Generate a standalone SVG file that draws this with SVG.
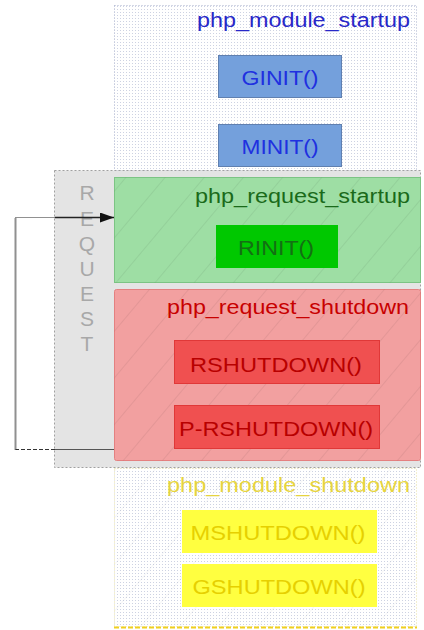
<svg xmlns="http://www.w3.org/2000/svg" width="424" height="630" viewBox="0 0 424 630">
<defs>
<pattern id="dots" width="3" height="3" patternUnits="userSpaceOnUse"><rect x="0" y="0" width="1" height="1" fill="#cdd2e2"/></pattern>
<pattern id="hatch" width="30" height="30" patternUnits="userSpaceOnUse" patternTransform="rotate(40)"><line x1="0" y1="0" x2="0" y2="30" stroke="#000" stroke-opacity="0.12" stroke-width="1"/></pattern>
<marker id="arr" markerWidth="14" markerHeight="10" refX="14" refY="5" orient="auto" markerUnits="userSpaceOnUse"><path d="M0,0 L14,5 L0,10 Z" fill="#111"/></marker>
</defs>
<style>
.t{font-family:"Liberation Sans",Arial,sans-serif;}
.title{font-size:20px;text-anchor:end;}
.lbl{font-size:21px;text-anchor:middle;dominant-baseline:central;}
.req{font-family:"Liberation Sans",Arial,sans-serif;font-size:21px;fill:#a8a8a8;text-anchor:middle;dominant-baseline:central;}
</style>
<rect width="424" height="630" fill="#fff"/>
<g id="module_startup">
<rect x="114.5" y="5.5" width="302" height="165" fill="url(#dots)" stroke="#a8b0cc" stroke-dasharray="1 2"/>
<text class="t title" x="410" y="27" fill="#2828c8" textLength="213" lengthAdjust="spacingAndGlyphs">php_module_startup</text>
</g>
<g id="GINIT">
<rect x="218.5" y="55.5" width="123" height="42" fill="#74a0dc" stroke="#6080b0"/>
<text class="t lbl" x="280" y="77" fill="#2030e0" textLength="77" lengthAdjust="spacingAndGlyphs">GINIT()</text>
</g>
<g id="MINIT">
<rect x="218.5" y="124.5" width="123" height="42" fill="#74a0dc" stroke="#6080b0"/>
<text class="t lbl" x="280" y="146" fill="#2030e0" textLength="77" lengthAdjust="spacingAndGlyphs">MINIT()</text>
</g>
<g id="request">
<rect x="54.5" y="170.5" width="366" height="297" fill="#e4e4e4" stroke="#a0a0a0" stroke-dasharray="2 2"/>
<text class="req" x="87" y="192">R</text>
<text class="req" x="87" y="218">E</text>
<text class="req" x="87" y="243">Q</text>
<text class="req" x="87" y="268">U</text>
<text class="req" x="87" y="293">E</text>
<text class="req" x="87" y="318">S</text>
<text class="req" x="87" y="343">T</text>
</g>
<g id="request_startup">
<rect x="114.5" y="177.5" width="306" height="105" fill="#9edea4" stroke="#7cc484"/>
<rect x="114.5" y="177.5" width="306" height="105" fill="url(#hatch)"/>
<text class="t title" x="410" y="203" fill="#1a6a1a" textLength="215" lengthAdjust="spacingAndGlyphs">php_request_startup</text>
</g>
<g id="RINIT">
<rect x="216" y="225" width="122" height="43" fill="#00c800"/>
<text class="t lbl" x="276" y="247" fill="#137013" textLength="76" lengthAdjust="spacingAndGlyphs">RINIT()</text>
</g>
<g id="request_shutdown">
<rect x="114.5" y="289.5" width="306" height="171" rx="2" fill="#f2a0a0" stroke="#e48080"/>
<rect x="114.5" y="289.5" width="306" height="171" fill="url(#hatch)"/>
<text class="t title" x="409" y="314" fill="#c80000" textLength="242" lengthAdjust="spacingAndGlyphs">php_request_shutdown</text>
</g>
<g id="RSHUTDOWN">
<rect x="174.5" y="340.5" width="205" height="43" fill="#f05050" stroke="#e03838"/>
<text class="t lbl" x="276" y="364" fill="#b80000" textLength="172" lengthAdjust="spacingAndGlyphs">RSHUTDOWN()</text>
</g>
<g id="P-RSHUTDOWN">
<rect x="174.5" y="405.5" width="205" height="43" fill="#f05050" stroke="#e03838"/>
<text class="t lbl" x="276" y="428" fill="#b80000" textLength="194" lengthAdjust="spacingAndGlyphs">P-RSHUTDOWN()</text>
</g>
<g id="module_shutdown">
<rect x="114.5" y="468.5" width="302" height="158" fill="url(#dots)" stroke="#e8e0a0" stroke-dasharray="1 2"/>
<rect x="114.5" y="468.5" width="302" height="158" fill="url(#hatch)" opacity="0.5"/>
<line x1="114" y1="627.5" x2="417" y2="627.5" stroke="#f0d020" stroke-width="2" stroke-dasharray="5 2"/>
<text class="t title" x="410" y="492" fill="#e6d440" textLength="243" lengthAdjust="spacingAndGlyphs">php_module_shutdown</text>
</g>
<g id="MSHUTDOWN">
<rect x="182" y="510" width="195" height="43" fill="#ffff40"/>
<text class="t lbl" x="278" y="532" fill="#e6d000" textLength="175" lengthAdjust="spacingAndGlyphs">MSHUTDOWN()</text>
</g>
<g id="GSHUTDOWN">
<rect x="182" y="564" width="195" height="43" fill="#ffff40"/>
<text class="t lbl" x="279" y="586" fill="#e6d000" textLength="173" lengthAdjust="spacingAndGlyphs">GSHUTDOWN()</text>
</g>
<g id="connectors" fill="none">
<line x1="114" y1="449.5" x2="55" y2="449.5" stroke="#555" stroke-width="1.2"/>
<line x1="55" y1="449.5" x2="15.5" y2="449.5" stroke="#333" stroke-dasharray="4 2"/>
<line x1="15.5" y1="449.5" x2="15.5" y2="217.5" stroke="#222" stroke-width="2" stroke-dasharray="1 1"/>
<line x1="15.5" y1="217.5" x2="55" y2="217.5" stroke="#222" stroke-width="1.2" stroke-dasharray="1 1"/>
<line x1="55" y1="217.5" x2="114" y2="217.5" stroke="#222" stroke-width="1.4" marker-end="url(#arr)"/>
</g>
</svg>
